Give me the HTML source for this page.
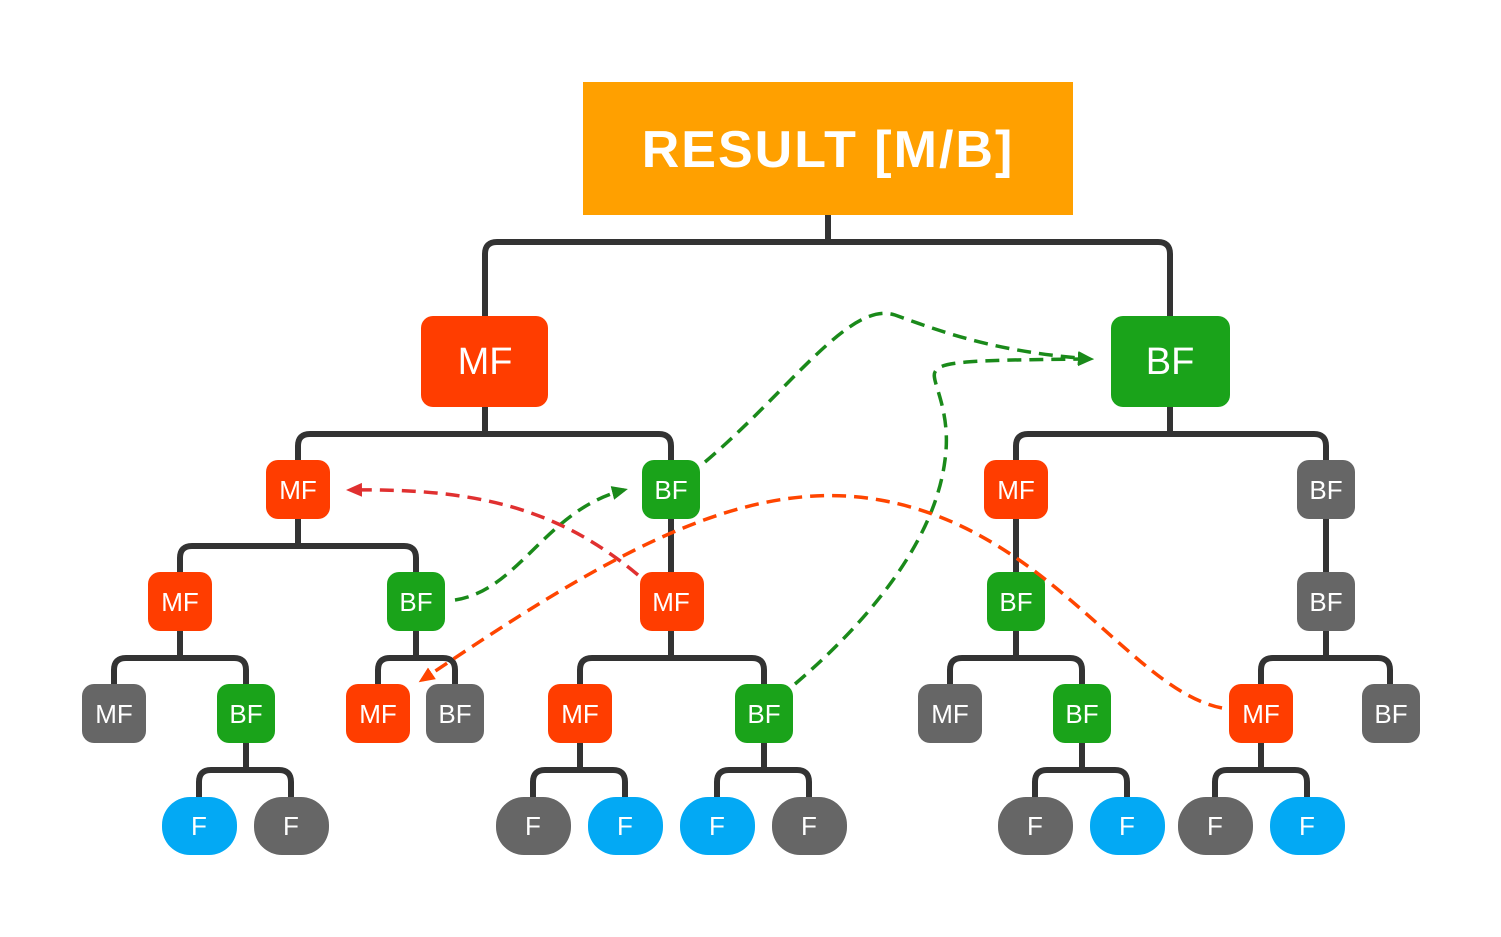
<!DOCTYPE html>
<html><head><meta charset="utf-8"><style>
html,body{margin:0;padding:0;background:#fff}
svg{display:block}
text{font-family:"Liberation Sans",sans-serif;fill:#fff;text-anchor:middle;dominant-baseline:central}
</style></head><body>
<svg width="1501" height="937" viewBox="0 0 1501 937" xmlns="http://www.w3.org/2000/svg">
<defs>
<marker id="ag" markerWidth="16" markerHeight="16" refX="12" refY="8" orient="auto" markerUnits="userSpaceOnUse" viewBox="0 0 16 16"><path d="M0,1 L16,8 L0,15 z" fill="#1a8a1a"/></marker>
<marker id="ar" markerWidth="16" markerHeight="16" refX="12" refY="8" orient="auto" markerUnits="userSpaceOnUse" viewBox="0 0 16 16"><path d="M0,1 L16,8 L0,15 z" fill="#e03030"/></marker>
<marker id="ao" markerWidth="16" markerHeight="16" refX="12" refY="8" orient="auto" markerUnits="userSpaceOnUse" viewBox="0 0 16 16"><path d="M0,1 L16,8 L0,15 z" fill="#ff4500"/></marker>
</defs>
<g fill="none" stroke="#333" stroke-width="6">
<path d="M828,215V242 M485,316V254Q485,242 497,242H1158Q1170,242 1170,254V316"/>
<path d="M485,407V434 M298,460V446Q298,434 310,434H659Q671,434 671,446V460"/>
<path d="M1170,407V434 M1016,460V446Q1016,434 1028,434H1314Q1326,434 1326,446V460"/>
<path d="M298,519V546 M180,572V558Q180,546 192,546H404Q416,546 416,558V572"/>
<path d="M671,519V572 M1016,519V572 M1326,519V572"/>
<path d="M180,631V658 M114,684V670Q114,658 126,658H234Q246,658 246,670V684"/>
<path d="M416,631V658 M378,684V670Q378,658 390,658H443Q455,658 455,670V684"/>
<path d="M671,631V658 M580,684V670Q580,658 592,658H752Q764,658 764,670V684"/>
<path d="M1016,631V658 M950,684V670Q950,658 962,658H1070Q1082,658 1082,670V684"/>
<path d="M1326,631V658 M1261,684V670Q1261,658 1273,658H1378Q1390,658 1390,670V684"/>
<path d="M246,743V770 M199,797V782Q199,770 211,770H279Q291,770 291,782V797"/>
<path d="M580,743V770 M533,797V782Q533,770 545,770H613Q625,770 625,782V797"/>
<path d="M764,743V770 M717,797V782Q717,770 729,770H797Q809,770 809,782V797"/>
<path d="M1082,743V770 M1035,797V782Q1035,770 1047,770H1115Q1127,770 1127,782V797"/>
<path d="M1261,743V770 M1215,797V782Q1215,770 1227,770H1295Q1307,770 1307,782V797"/>
</g>
<rect x="583" y="82" width="490" height="133" fill="#FFA000"/>
<text x="828" y="150" font-size="52" font-weight="bold" letter-spacing="2">RESULT [M/B]</text>
<rect x="421" y="316" width="127" height="91" rx="12" fill="#FF3D00"/><text x="485" y="362" font-size="38">MF</text>
<rect x="1111" y="316" width="119" height="91" rx="12" fill="#1AA31A"/><text x="1170" y="362" font-size="38">BF</text>
<g font-size="26">
<rect x="266" y="460" width="64" height="59" rx="12" fill="#FF3D00"/><text x="298" y="490">MF</text>
<rect x="642" y="460" width="58" height="59" rx="12" fill="#1AA31A"/><text x="671" y="490">BF</text>
<rect x="984" y="460" width="64" height="59" rx="12" fill="#FF3D00"/><text x="1016" y="490">MF</text>
<rect x="1297" y="460" width="58" height="59" rx="12" fill="#666"/><text x="1326" y="490">BF</text>
<rect x="148" y="572" width="64" height="59" rx="12" fill="#FF3D00"/><text x="180" y="602">MF</text>
<rect x="387" y="572" width="58" height="59" rx="12" fill="#1AA31A"/><text x="416" y="602">BF</text>
<rect x="640" y="572" width="64" height="59" rx="12" fill="#FF3D00"/><text x="671" y="602">MF</text>
<rect x="987" y="572" width="58" height="59" rx="12" fill="#1AA31A"/><text x="1016" y="602">BF</text>
<rect x="1297" y="572" width="58" height="59" rx="12" fill="#666"/><text x="1326" y="602">BF</text>
<rect x="82" y="684" width="64" height="59" rx="12" fill="#666"/><text x="114" y="714">MF</text>
<rect x="217" y="684" width="58" height="59" rx="12" fill="#1AA31A"/><text x="246" y="714">BF</text>
<rect x="346" y="684" width="64" height="59" rx="12" fill="#FF3D00"/><text x="378" y="714">MF</text>
<rect x="426" y="684" width="58" height="59" rx="12" fill="#666"/><text x="455" y="714">BF</text>
<rect x="548" y="684" width="64" height="59" rx="12" fill="#FF3D00"/><text x="580" y="714">MF</text>
<rect x="735" y="684" width="58" height="59" rx="12" fill="#1AA31A"/><text x="764" y="714">BF</text>
<rect x="918" y="684" width="64" height="59" rx="12" fill="#666"/><text x="950" y="714">MF</text>
<rect x="1053" y="684" width="58" height="59" rx="12" fill="#1AA31A"/><text x="1082" y="714">BF</text>
<rect x="1229" y="684" width="64" height="59" rx="12" fill="#FF3D00"/><text x="1261" y="714">MF</text>
<rect x="1362" y="684" width="58" height="59" rx="12" fill="#666"/><text x="1391" y="714">BF</text>
<rect x="162" y="797" width="75" height="58" rx="28" fill="#03A9F4"/><text x="199" y="826">F</text>
<rect x="254" y="797" width="75" height="58" rx="28" fill="#666"/><text x="291" y="826">F</text>
<rect x="496" y="797" width="75" height="58" rx="28" fill="#666"/><text x="533" y="826">F</text>
<rect x="588" y="797" width="75" height="58" rx="28" fill="#03A9F4"/><text x="625" y="826">F</text>
<rect x="680" y="797" width="75" height="58" rx="28" fill="#03A9F4"/><text x="717" y="826">F</text>
<rect x="772" y="797" width="75" height="58" rx="28" fill="#666"/><text x="809" y="826">F</text>
<rect x="998" y="797" width="75" height="58" rx="28" fill="#666"/><text x="1035" y="826">F</text>
<rect x="1090" y="797" width="75" height="58" rx="28" fill="#03A9F4"/><text x="1127" y="826">F</text>
<rect x="1178" y="797" width="75" height="58" rx="28" fill="#666"/><text x="1215" y="826">F</text>
<rect x="1270" y="797" width="75" height="58" rx="28" fill="#03A9F4"/><text x="1307" y="826">F</text>
</g>
<g fill="none" stroke-width="3.5" stroke-dasharray="14,8">
<path d="M705,462 C790,390 850,300 895,315 C950,335 1000,352 1090,359" stroke="#1a8a1a" marker-end="url(#ag)"/>
<path d="M795,684 C870,620 935,540 945,460 C952,410 930,380 935,372 C940,362 960,360 1090,359" stroke="#1a8a1a" marker-end="url(#ag)"/>
<path d="M455,600 C520,590 545,510 624,490" stroke="#1a8a1a" marker-end="url(#ag)"/>
<path d="M638,575 C560,510 480,488 350,490" stroke="#e03030" marker-end="url(#ar)"/>
<path d="M1222,708 C1130,690 1050,530 880,500 C740,475 600,560 422,680" stroke="#ff4500" marker-end="url(#ao)"/>
</g>
</svg>
</body></html>
